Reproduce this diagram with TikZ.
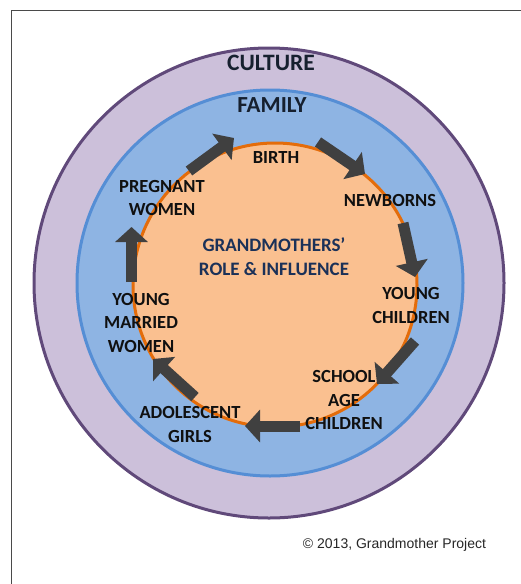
\documentclass[tikz,border=0pt]{standalone}
\usepackage{fontspec}
\setmainfont{Carlito}
\newfontfamily\notefont{Liberation Sans}
\usetikzlibrary{arrows.meta}
% Ring colours
\definecolor{culturefill}{HTML}{CCC0DA}
\definecolor{cultureline}{HTML}{60497A}
\definecolor{familyfill}{HTML}{8EB4E3}
\definecolor{familyline}{HTML}{558ED5}
\definecolor{rolefill}{HTML}{FAC090}
\definecolor{roleline}{HTML}{E46C0A}
\definecolor{arrowgray}{HTML}{404040}
\definecolor{framegray}{HTML}{4A4A4A}
\definecolor{ringtext}{HTML}{16202F}
\definecolor{roletext}{HTML}{1B3158}
\definecolor{stagetext}{HTML}{101010}
\begin{document}
\begin{tikzpicture}[x=1pt, y=-1pt,
    stage/.style={font=\fontsize{18.5}{23.5}\selectfont\bfseries, text=stagetext, align=center},
    ringlabel/.style={font=\fontsize{23.5}{27}\selectfont\bfseries, text=ringtext},
    cyclearrow/.style={draw=arrowgray, line width=11pt, -{Triangle[width=32pt,length=15pt]}}]
    \useasboundingbox (0,0) rectangle (521,584);
    % Frame, top and left edges only
    \draw[framegray, line width=1.5pt] (521,10.5) -- (11.5,10.5) -- (11.5,584);
    % Nested rings
    \fill[culturefill] (269,283) circle (235pt);
    \draw[cultureline, line width=3pt] (269,283) circle (235pt);
    \fill[familyfill] (270,283) circle (193pt);
    \draw[familyline, line width=3pt] (270,283) circle (193pt);
    \fill[rolefill] (275,285) circle (142pt);
    \draw[roleline, line width=3pt] (275,285) circle (142pt);
    % Ring titles
    \node[ringlabel] (culture) at (271,63) {CULTURE};
    \node[ringlabel, font=\fontsize{23}{27}\selectfont\bfseries] (family) at (272,105) {FAMILY};
    \node[font=\fontsize{19}{24}\selectfont\bfseries, text=roletext, align=center]
        (role) at (274,257) {GRANDMOTHERS’\\ROLE \& INFLUENCE};
    % Arrow end points round the cycle
    \coordinate (pregS) at (189,171);   \coordinate (pregE) at (234,138);
    \coordinate (birthS) at (318,142);  \coordinate (birthE) at (365,174);
    \coordinate (newbS) at (403,223);   \coordinate (newbE) at (415,277);
    \coordinate (youngS) at (415,341);  \coordinate (youngE) at (377,384);
    \coordinate (schoolS) at (300,426); \coordinate (schoolE) at (245,426);
    \coordinate (adolS) at (195,397);   \coordinate (adolE) at (153,359);
    \coordinate (marrS) at (131.5,282); \coordinate (marrE) at (131.5,227);
    \foreach \s/\e in {pregS/pregE, birthS/birthE, newbS/newbE, youngS/youngE,
                       schoolS/schoolE, adolS/adolE, marrS/marrE}
        \draw[cyclearrow] (\s) -- (\e);
    % Life stages
    \node[stage] (birth) at (276,157) {BIRTH};
    \node[stage] (newborns) at (390,200) {NEWBORNS};
    \node[stage] (children) at (411,305.5) {YOUNG\\CHILDREN};
    \node[stage] (school) at (344,400) {SCHOOL\\AGE\\CHILDREN};
    \node[stage] (girls) at (190,424.5) {ADOLESCENT\\GIRLS};
    \node[stage] (married) at (141,322.5) {YOUNG\\MARRIED\\WOMEN};
    \node[stage] (pregnant) at (162,198) {PREGNANT\\WOMEN};
    % Credit line
    \node[font=\notefont\fontsize{14}{16}\selectfont, text=black!85] (credit) at (394.5,545)
        {© 2013, Grandmother Project};
\end{tikzpicture}
\end{document}
